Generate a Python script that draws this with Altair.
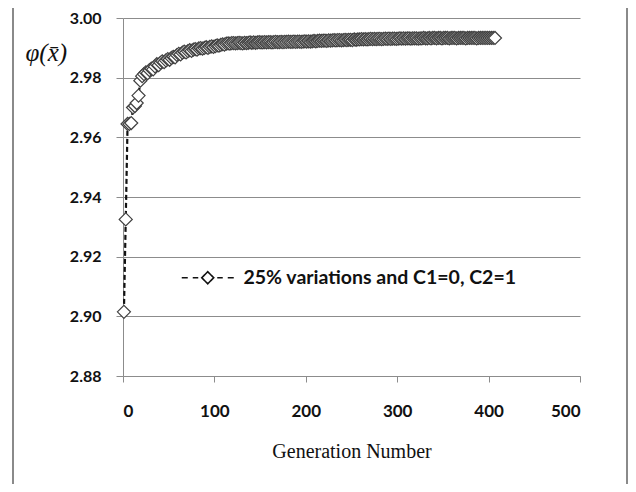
import altair as alt
import pandas as pd

series_name = "25% variations and C1=0, C2=1"

# generation index (every second generation)
generations = list(range(1, 409, 2))

fitness = [
    2.9015, 2.9325, 2.9645, 2.9645, 2.9648, 2.9700, 2.9705, 2.9715, 2.9740, 2.9790,
    2.9805, 2.9812, 2.9818, 2.9815, 2.9825, 2.9830, 2.9828, 2.9838, 2.9845, 2.9842,
    2.9850, 2.9855, 2.9852, 2.9858, 2.9862, 2.9860, 2.9866, 2.9870, 2.9868, 2.9876,
    2.9880, 2.9878, 2.9884, 2.9887, 2.9885, 2.9889, 2.9892, 2.9890, 2.9894, 2.9896,
    2.9894, 2.9898, 2.9899, 2.9897, 2.9900, 2.9902, 2.9900, 2.9903, 2.9905, 2.9903,
    2.9906, 2.9908, 2.9907, 2.9910, 2.9912, 2.9911, 2.9914, 2.9915, 2.9914, 2.9916,
    2.9916, 2.9915, 2.9916, 2.9917, 2.9916, 2.9915, 2.9917, 2.9916, 2.9917, 2.9918,
    2.9917, 2.9918, 2.9917, 2.9918, 2.9919, 2.9918, 2.9918, 2.9919, 2.9918, 2.9919,
    2.9919, 2.9918, 2.9919, 2.9920, 2.9919, 2.9919, 2.9920, 2.9919, 2.9920, 2.9920,
    2.9921, 2.9920, 2.9920, 2.9921, 2.9920, 2.9921, 2.9921, 2.9920, 2.9921, 2.9922,
    2.9921, 2.9922, 2.9921, 2.9922, 2.9923, 2.9922, 2.9923, 2.9924, 2.9923, 2.9924,
    2.9924, 2.9923, 2.9925, 2.9924, 2.9925, 2.9926, 2.9925, 2.9926, 2.9926, 2.9925,
    2.9926, 2.9927, 2.9926, 2.9927, 2.9927, 2.9926, 2.9928, 2.9927, 2.9928, 2.9928,
    2.9929, 2.9928, 2.9929, 2.9928, 2.9929, 2.9930, 2.9929, 2.9930, 2.9929, 2.9930,
    2.9930, 2.9929, 2.9930, 2.9931, 2.9930, 2.9931, 2.9930, 2.9931, 2.9931, 2.9930,
    2.9931, 2.9932, 2.9931, 2.9932, 2.9931, 2.9932, 2.9932, 2.9931, 2.9932, 2.9932,
    2.9932, 2.9931, 2.9932, 2.9932, 2.9933, 2.9932, 2.9932, 2.9933, 2.9932, 2.9933,
    2.9933, 2.9932, 2.9933, 2.9933, 2.9932, 2.9933, 2.9933, 2.9933, 2.9932, 2.9933,
    2.9933, 2.9933, 2.9932, 2.9933, 2.9933, 2.9933, 2.9933, 2.9932, 2.9933, 2.9933,
    2.9933, 2.9933, 2.9933, 2.9932, 2.9933, 2.9933, 2.9933, 2.9933, 2.9933, 2.9933,
    2.9933, 2.9933, 2.9933, 2.9933,
]

x_ticks = [0, 100, 200, 300, 400, 500]
y_ticks = [2.88, 2.90, 2.92, 2.94, 2.96, 2.98, 3.00]

df = pd.DataFrame({"gen": generations, "val": fitness, "series": series_name})

GRID = "#8c8c8c"

x_enc = alt.X("gen:Q", scale=alt.Scale(domain=[0, 500], nice=False),
              axis=alt.Axis(values=x_ticks, grid=False, tickSize=6, tickColor=GRID,
                            domainColor=GRID, labelFont="Lato", labelFontWeight="bold",
                            labelFontSize=17, labelColor="#111111", labelPadding=21,
                            title="Generation Number", titleFont="Liberation Serif",
                            titleFontWeight="normal", titleFontSize=20, titleColor="#111111",
                            titlePadding=22))
y_enc = alt.Y("val:Q", scale=alt.Scale(domain=[2.88, 3.00], nice=False, zero=False),
              axis=alt.Axis(values=y_ticks, format=".2f", grid=True, gridColor=GRID,
                            tickSize=7, tickColor=GRID, domainColor=GRID,
                            labelFont="Lato", labelFontWeight="bold", labelFontSize=16,
                            labelColor="#111111", labelPadding=15,
                            title="φ(x\u0304)", titleAngle=0, titleX=-98, titleY=34,
                            titleAlign="left", titleBaseline="middle",
                            titleFont="Liberation Serif", titleFontStyle="italic",
                            titleFontSize=25, titleFontWeight="normal", titleColor="#111111"))

legend_symbol = ("M-5.2,0L-4,0M-3,0L-1.9,0M-1.2,0L0,-1.2L1.2,0L0,1.2Z"
                 "M1.9,0L3,0M4,0L5.2,0")

line = alt.Chart(df).mark_line(strokeDash=[5, 3], strokeWidth=2.2).encode(
    x=x_enc, y=y_enc,
    color=alt.Color("series:N", scale=alt.Scale(range=["#111111"]),
                    legend=alt.Legend(title=None, orient="none", legendX=75, legendY=250,
                                      symbolType=legend_symbol, symbolSize=100,
                                      symbolStrokeWidth=1.6, symbolFillColor="white",
                                      symbolDash=[1, 0],
                                      labelFont="Lato", labelFontWeight="bold",
                                      labelFontSize=19.5, labelColor="#111111",
                                      labelOffset=26, padding=0, labelLimit=400)))

points = alt.Chart(df).mark_point(shape="diamond", filled=True, fill="white",
                                  stroke="#404040", strokeWidth=1.2, size=170,
                                  opacity=1).encode(x="gen:Q", y="val:Q")

frame = alt.Chart(alt.Data(values=[{}])).mark_rect(
    fillOpacity=0, stroke="#8a8a8a", strokeWidth=2).encode(
    x=alt.value(-110), x2=alt.value(504), y=alt.value(-14), y2=alt.value(480))

chart = alt.layer(frame, line, points).properties(
    width=457, height=358,
    autosize=alt.AutoSizeParams(type="none"),
    padding={"left": 115, "top": 10, "right": 48, "bottom": 108},
).configure_view(stroke=None)

chart.save("out.html", embed_options={"renderer": "svg", "actions": False})
